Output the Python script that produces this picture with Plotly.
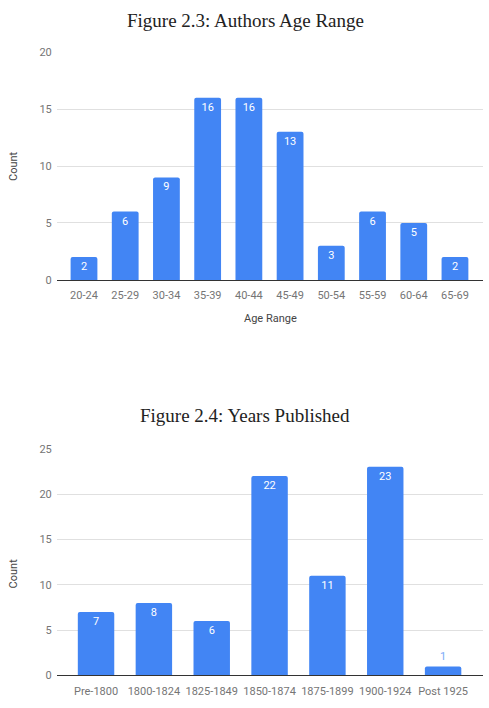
import plotly.graph_objects as go

# ---- data ----
age_ranges = ["20-24", "25-29", "30-34", "35-39", "40-44", "45-49", "50-54", "55-59", "60-64", "65-69"]
age_counts = [2, 6, 9, 16, 16, 13, 3, 6, 5, 2]

year_ranges = ["Pre-1800", "1800-1824", "1825-1849", "1850-1874", "1875-1899", "1900-1924", "Post 1925"]
year_counts = [7, 8, 6, 22, 11, 23, 1]

title1 = "Figure 2.3: Authors Age Range"
title2 = "Figure 2.4: Years Published"

W, H = 489, 708
BLUE = "#4285F4"
FONT = "Roboto"


def ypos(px):
    return 1 - px / H


fig = go.Figure()

fig.add_trace(go.Bar(
    x=age_ranges, y=age_counts, text=[str(v) for v in age_counts],
    textposition="inside", insidetextanchor="end",
    textfont=dict(color="white", size=11, family=FONT),
    marker=dict(color=BLUE, line=dict(width=0), cornerradius=2),
    width=0.65, xaxis="x", yaxis="y", hoverinfo="x+y",
    cliponaxis=False,
))

pos2 = ["inside" if v >= 3 else "outside" for v in year_counts]
col2 = ["white" if v >= 3 else "#7baaf7" for v in year_counts]
fig.add_trace(go.Bar(
    x=year_ranges, y=year_counts, text=[str(v) for v in year_counts],
    textposition=pos2, insidetextanchor="end",
    textfont=dict(color=col2, size=11, family=FONT),
    marker=dict(color=BLUE, line=dict(width=0), cornerradius=2),
    width=0.63, xaxis="x2", yaxis="y2", hoverinfo="x+y",
    cliponaxis=False,
))

xdom = [57 / W, 483 / W]
common_x = dict(
    type="category", showgrid=False, zeroline=False,
    showline=True, linecolor="#333333", linewidth=1,
    ticks="outside", ticklen=5, tickcolor="rgba(0,0,0,0)",
    tickfont=dict(family=FONT, size=11, color="#757575"),
    fixedrange=True,
)
common_y = dict(
    showgrid=True, gridcolor="#e0e0e0", gridwidth=1, zeroline=False,
    ticks="outside", ticklen=2, tickcolor="rgba(0,0,0,0)",
    tickfont=dict(family=FONT, size=11, color="#757575"),
    fixedrange=True,
)

ann = dict(xref="paper", yref="paper", showarrow=False, xanchor="center", yanchor="middle")

fig.update_layout(
    width=W, height=H,
    margin=dict(l=0, r=0, t=0, b=0),
    paper_bgcolor="white", plot_bgcolor="white",
    showlegend=False,
    bargap=0.35,
    xaxis=dict(domain=xdom, anchor="y", range=[-0.655, 9.68], **common_x),
    yaxis=dict(domain=[ypos(279), ypos(47)], anchor="x", range=[0, 20], dtick=5, **common_y),
    xaxis2=dict(domain=xdom, anchor="y2", range=[-0.675, 6.69], **common_x),
    yaxis2=dict(domain=[ypos(682), ypos(451)], anchor="x2", range=[0, 25], dtick=5, **common_y),
    annotations=[
        dict(text=title1, x=245 / W, y=ypos(15),
             font=dict(family="Liberation Serif", size=19, color="#222222"), **ann),
        dict(text=title2, x=245 / W, y=ypos(417),
             font=dict(family="Liberation Serif", size=19, color="#222222"), **ann),
        dict(text="Count", x=13 / W, y=ypos(163), textangle=-90,
             font=dict(family=FONT, size=11, color="#444444"), **ann),
        dict(text="Age Range", x=270 / W, y=ypos(318),
             font=dict(family=FONT, size=11, color="#444444"), **ann),
        dict(text="Count", x=13 / W, y=ypos(578), textangle=-90,
             font=dict(family=FONT, size=11, color="#444444"), **ann),
    ],
)

fig.write_html("out.html")
